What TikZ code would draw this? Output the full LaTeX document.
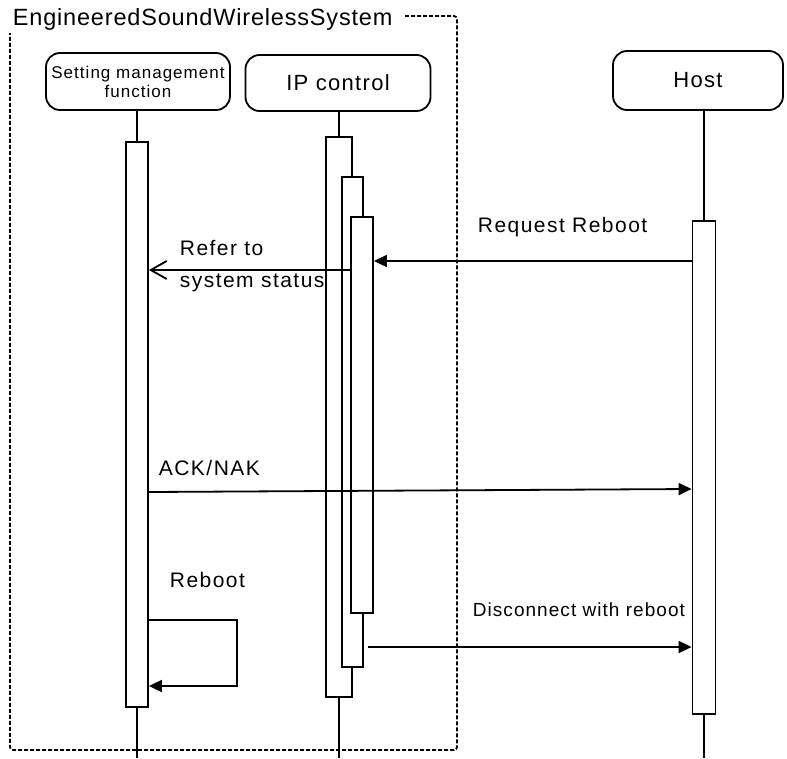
\documentclass[tikz,border=0pt]{standalone}
\usepackage{fontspec}
\setmainfont{Liberation Sans}
\usetikzlibrary{arrows, arrows.meta, positioning}

\begin{document}
\begin{tikzpicture}[x = 1pt, y = -1pt, % pixel grid, y down
                > = {Triangle[length=13pt, width=12pt]}, % filled message head
                line width = 1.8pt % line style
            ]

            \tikzstyle{head}=[draw, rounded corners = 14pt, align = center,
            font = \fontsize{22}{24}\selectfont\addfontfeature{LetterSpace=6}]
            \tikzstyle{bar}=[draw, fill = white, minimum width = 22pt, inner sep = 0pt]
            \tikzstyle{lbl}=[anchor = west, inner sep = 0pt, font =
                \fontsize{21}{32}\selectfont\addfontfeature{LetterSpace=7}]
            \tikzstyle{reply}=[-{Straight Barb[length=16pt, width=18pt]}]

            \useasboundingbox (0,0) rectangle (787,758);

            % frame of the system
            \node[anchor = west, inner sep = 0pt, font =
                \fontsize{23.5}{26}\selectfont\addfontfeature{LetterSpace=3.5}]
                (sys) at (12,19) {EngineeredSoundWirelessSystem};
            \draw[dashed, dash pattern = on 4pt off 2pt, rounded corners = 3pt]
            (405,16) -- (457,16) -- (457,750) -- (10,750) -- (10,33);

            % lifeline heads
            \node[head, minimum width = 184pt, minimum height = 57pt, font =
                \fontsize{17}{19}\selectfont\addfontfeature{LetterSpace=6}]
                (smf) at (138,81.5) {Setting management\\function};
            \node[head, minimum width = 185pt, minimum height = 56pt] (ipc) at
            (338,83) {IP control};
            \node[head, minimum width = 170pt, minimum height = 59pt] (host) at
            (698,80.5) {Host};

            % activations
            \node[bar, minimum height = 565pt] (smfbar) at (137,424.5) {};
            \node[bar, minimum width = 26pt, minimum height = 560pt] (ipbar1)
            at (339,417) {};
            \node[bar, minimum width = 21pt, minimum height = 490pt] (ipbar2)
            at (352.5,422) {};
            \node[bar, minimum height = 396pt] (ipbar3) at (362,415) {};
            \node[bar, minimum width = 23pt, minimum height = 493pt] (hostbar)
            at (704,467.5) {};

            % lifelines
            \coordinate (smfend) at (137,758); \coordinate (ipend) at
            (339,758); \coordinate (hostend) at (704,758);
            \draw (smf.south -| smfbar.north) -- (smfbar.north); \draw
            (smfbar.south) -- (smfend);
            \draw (ipc.south -| ipbar1.north) -- (ipbar1.north); \draw
            (ipbar1.south) -- (ipend);
            \draw (host.south -| hostbar.north) -- (hostbar.north); \draw
            (hostbar.south) -- (hostend);

            % messages
            \draw[->] (hostbar.west |- 0,261) -- (ipbar3.east |- 0,261);
            \node[lbl] (rq) at (477,227) {Request Reboot};

            \draw[reply] (ipbar3.west |- 0,270) -- (smfbar.east |- 0,270);
            \node[lbl, align = left] (ref) at (179,266) {Refer to\\system status};

            \draw[->] (smfbar.east |- 0,492) -- (hostbar.west |- 0,489);
            \node[lbl] (ack) at (158,468) {ACK/NAK};

            \draw[->] (smfbar.east |- 0,620) -- (237,620) |- (smfbar.east |-
            0,686);
            \node[lbl] (rb) at (169,580) {Reboot};

            \draw[->] (ipbar2.east |- 0,647) ++(4,0) -- (hostbar.west |- 0,647);
            \node[lbl, font = \fontsize{19}{22}\selectfont\addfontfeature{LetterSpace=5.5}]
            (disc) at (472,610) {Disconnect with reboot};
        \end{tikzpicture}
\end{document}
